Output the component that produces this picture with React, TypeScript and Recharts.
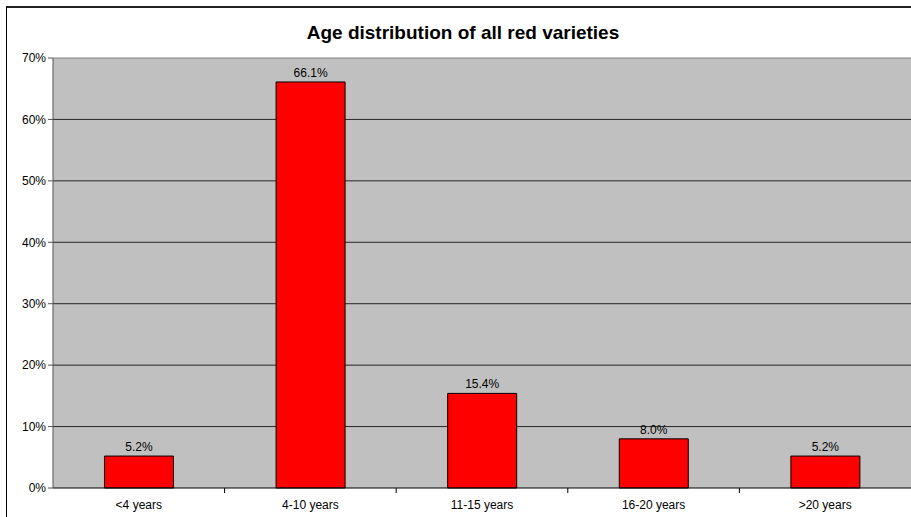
import React from "react";
import {
  BarChart,
  Bar,
  XAxis,
  YAxis,
  CartesianGrid,
  LabelList,
} from "recharts";

const categories = ["<4 years", "4-10 years", "11-15 years", "16-20 years", ">20 years"];
const shares = [5.2, 66.1, 15.4, 8.0, 5.2];
const yTicks = [0, 10, 20, 30, 40, 50, 60, 70];

const data = categories.map((name, i) => ({ name, share: shares[i] }));

const font = "Arial, 'Liberation Sans', sans-serif";

const CategoryTick = (props: any) => {
  const { x, y, payload, width, visibleTicksCount, index } = props;
  const half = width / visibleTicksCount / 2;
  const last = index === visibleTicksCount - 1;
  return (
    <g>
      {!last && (
        <line x1={x + half} x2={x + half} y1={y - 8} y2={y - 3} stroke="#000" />
      )}
      <text x={x} y={y + 13} textAnchor="middle" fontSize={12} fill="#000" fontFamily={font}>
        {payload.value}
      </text>
    </g>
  );
};

const App = () => {
  return (
    <div style={{ position: "absolute", left: 0, top: 0, width: 911, height: 517, background: "#fff", overflow: "hidden" }}>
      <div
        style={{
          position: "absolute",
          left: 6,
          top: 6,
          width: 940,
          height: 540,
          borderLeft: "1px solid #000",
          borderTop: "2px solid #222",
        }}
      />
      <div
        style={{
          position: "absolute",
          left: 0,
          top: 22,
          width: 926,
          textAlign: "center",
          fontFamily: font,
          fontWeight: "bold",
          fontSize: 19,
          lineHeight: "22px",
          color: "#000",
        }}
      >
        Age distribution of all red varieties
      </div>
      <div style={{ position: "absolute", left: 0, top: 0 }}>
        <BarChart
          width={911}
          height={517}
          data={data}
          margin={{ top: 58, right: 0, left: 0, bottom: 0 }}
          barCategoryGap="30%"
        >
          <CartesianGrid
            vertical={false}
            fill="#C0C0C0"
            stroke="#000"
            strokeOpacity={0.8}
            horizontalValues={[10, 20, 30, 40, 50, 60]}
          />
          <CartesianGrid
            vertical={false}
            stroke="#808080"
            horizontalValues={[70]}
          />
          <XAxis
            dataKey="name"
            stroke="#000"
            tickLine={false}
            tick={<CategoryTick />}
            interval={0}
            height={29}
          />
          <YAxis
            domain={[0, 70]}
            ticks={yTicks}
            tickFormatter={(v: number) => `${v}%`}
            width={53}
            stroke="#555"
            tickSize={5}
            tick={{ fontSize: 12, fill: "#000", fontFamily: font }}
            interval={0}
          />
          <Bar dataKey="share" fill="#FF0000" stroke="#000" strokeWidth={1} isAnimationActive={false}>
            <LabelList
              dataKey="share"
              position="top"
              offset={5}
              formatter={(v: any) => `${Number(v).toFixed(1)}%`}
              style={{ fontSize: 12, fill: "#000", fontFamily: font }}
            />
          </Bar>
        </BarChart>
      </div>
    </div>
  );
};

export default App;
